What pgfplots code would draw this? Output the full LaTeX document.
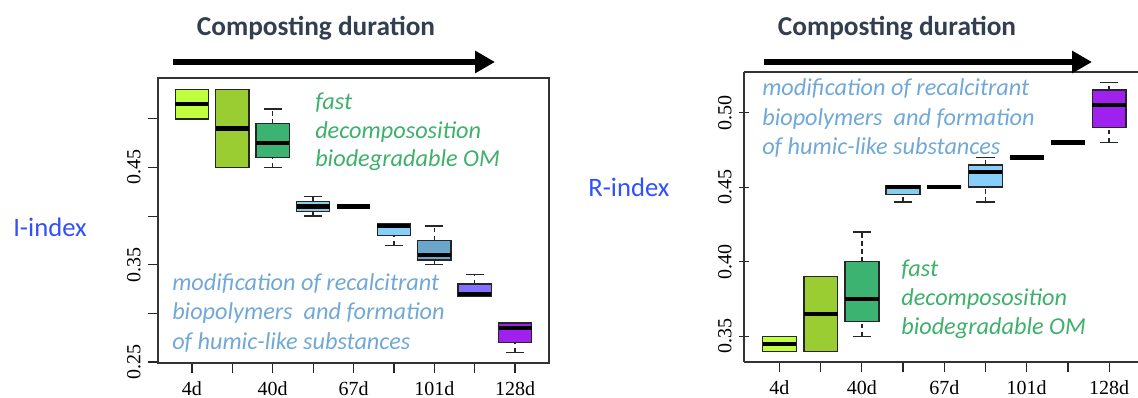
\documentclass[border=0pt]{standalone}
\usepackage{pgfplots}
\pgfplotsset{compat=1.18}
\usetikzlibrary{arrows.meta}
\usepackage{fontspec}
\setmainfont{Liberation Serif}
\newfontfamily\calfont{Carlito}
\definecolor{cA}{HTML}{C0FF3E}
\definecolor{cB}{HTML}{9ACD32}
\definecolor{cC}{HTML}{3CB371}
\definecolor{cD}{HTML}{87CEEB}
\definecolor{cE}{HTML}{87CEFA}
\definecolor{cF}{HTML}{87CEFA}
\definecolor{cG}{HTML}{6CA6CD}
\definecolor{cH}{HTML}{8470FF}
\definecolor{cI}{HTML}{A020F0}
\definecolor{titlec}{HTML}{333F50}
\definecolor{idxc}{HTML}{3050FF}
\definecolor{greent}{HTML}{3DB06B}
\definecolor{bluet}{HTML}{70A8D8}
\pgfplotsset{
  bx/.style={
    scale only axis,
    tick align=outside,
    major tick length=7.5pt,
    xtick pos=left, ytick pos=left,
    axis line style={black!80, line width=0.8pt},
    tick style={black!85, line width=0.9pt},
    xtick={1,...,9},
    xticklabels={4d,,40d,,67d,,101d,,128d},
    ticklabel style={font=\fontsize{15}{17}\selectfont},
    /pgf/number format/assume math mode=true,
    yticklabel style={rotate=90, anchor=south},
    yticklabel shift=2pt,
    xticklabel style={yshift=-3pt},
  },
  whisk/.style={draw=black!85, line width=1pt},
}
% box-and-whisker: position, colour, lower whisker, lower quartile, median, upper quartile, upper whisker
\newcommand\bxp[7]{%
  \pgfmathsetmacro\xL{#1-0.41}\pgfmathsetmacro\xR{#1+0.41}%
  \pgfmathsetmacro\cL{#1-0.225}\pgfmathsetmacro\cR{#1+0.225}%
  \addplot[whisk, dash pattern=on 3.5pt off 2.5pt] coordinates {(#1,#3) (#1,#4)};
  \addplot[whisk, dash pattern=on 3.5pt off 2.5pt] coordinates {(#1,#6) (#1,#7)};
  \addplot[whisk] coordinates {(\cL,#3) (\cR,#3)};
  \addplot[whisk] coordinates {(\cL,#7) (\cR,#7)};
  \addplot[draw=black!85, line width=1.1pt, fill=#2] coordinates {(\xL,#4) (\xR,#4) (\xR,#6) (\xL,#6)} -- cycle;
  \addplot[black, line width=3.3pt] coordinates {(\xL,#5) (\xR,#5)};
}
\begin{document}
\begin{tikzpicture}[x=0.75pt,y=0.75pt]
\useasboundingbox (0,0) rectangle (1138,398);
% ---------- left panel: I-index ----------
\begin{axis}[bx, at={(118.5pt,26.25pt)}, anchor=south west,
  width=293.25pt, height=213.75pt,
  xmin=0.16, xmax=9.84, ymin=0.249, ymax=0.542,
  ytick={0.25,0.30,0.35,0.40,0.45,0.50},
  yticklabels={0.25,,0.35,,0.45,}]
\bxp{1}{cA}{0.50}{0.50}{0.515}{0.53}{0.53}
\bxp{2}{cB}{0.45}{0.45}{0.49}{0.53}{0.53}
\bxp{3}{cC}{0.45}{0.46}{0.475}{0.495}{0.51}
\bxp{4}{cD}{0.40}{0.405}{0.41}{0.415}{0.42}
\bxp{5}{cE}{0.41}{0.41}{0.41}{0.41}{0.41}
\bxp{6}{cF}{0.37}{0.38}{0.39}{0.392}{0.392}
\bxp{7}{cG}{0.35}{0.355}{0.36}{0.375}{0.39}
\bxp{8}{cH}{0.318}{0.318}{0.32}{0.33}{0.34}
\bxp{9}{cI}{0.26}{0.27}{0.285}{0.29}{0.29}
\end{axis}
% ---------- right panel: R-index ----------
\begin{axis}[bx, at={(558pt,27pt)}, anchor=south west,
  width=295.5pt, height=217.5pt,
  separate axis lines, axis x line=box, axis y line=left,
  y axis line style={-},
  xmin=0.14, xmax=9.70, ymin=0.3328, ymax=0.5272,
  ytick={0.35,0.40,0.45,0.50},
  yticklabels={0.35,0.40,0.45,0.50}]
\bxp{1}{cA}{0.34}{0.34}{0.345}{0.35}{0.35}
\bxp{2}{cB}{0.34}{0.34}{0.365}{0.39}{0.39}
\bxp{3}{cC}{0.35}{0.36}{0.375}{0.40}{0.42}
\bxp{4}{cD}{0.44}{0.445}{0.45}{0.451}{0.451}
\bxp{5}{cE}{0.45}{0.45}{0.45}{0.45}{0.45}
\bxp{6}{cF}{0.44}{0.45}{0.46}{0.465}{0.47}
\bxp{7}{cG}{0.47}{0.47}{0.47}{0.47}{0.47}
\bxp{8}{cH}{0.48}{0.48}{0.48}{0.48}{0.48}
\bxp{9}{cI}{0.48}{0.49}{0.505}{0.515}{0.52}
\end{axis}
% ---------- annotations ----------
\tikzset{ann/.style={inner sep=0pt, anchor=west, font=\calfont\itshape\fontsize{18.2}{21}\selectfont}}
\node[inner sep=0pt, text=titlec, font=\calfont\bfseries\fontsize{20.5}{24}\selectfont] at (316,370) {Composting duration};
\node[inner sep=0pt, text=titlec, font=\calfont\bfseries\fontsize{20.5}{24}\selectfont] at (897,370) {Composting duration};
\draw[line width=5pt, -{Triangle[length=15pt,width=16pt]}] (173,336) -- (495,336);
\draw[line width=5pt, -{Triangle[length=15pt,width=16pt]}] (764,336) -- (1092,336);
\node[inner sep=0pt, anchor=west, text=idxc, font=\calfont\fontsize{20}{24}\selectfont] at (13,171) {I-index};
\node[inner sep=0pt, anchor=west, text=idxc, font=\calfont\fontsize{20}{24}\selectfont] at (588,211) {R-index};
\node[ann, text=greent] at (315,295) {fast};
\node[ann, text=greent] at (315,266) {decompososition};
\node[ann, text=greent] at (315,238) {biodegradable OM};
\node[ann, text=bluet] at (172,114) {modification of recalcitrant};
\node[ann, text=bluet] at (172,85) {biopolymers\ \ and formation};
\node[ann, text=bluet] at (172,55) {of humic-like substances};
\node[ann, text=bluet] at (762,309) {modification of recalcitrant};
\node[ann, text=bluet] at (762,279) {biopolymers\ \ and formation};
\node[ann, text=bluet] at (762,250) {of humic-like substances};
\node[ann, text=greent] at (901,128) {fast};
\node[ann, text=greent] at (901,99) {decompososition};
\node[ann, text=greent] at (901,70) {biodegradable OM};
\end{tikzpicture}
\end{document}
